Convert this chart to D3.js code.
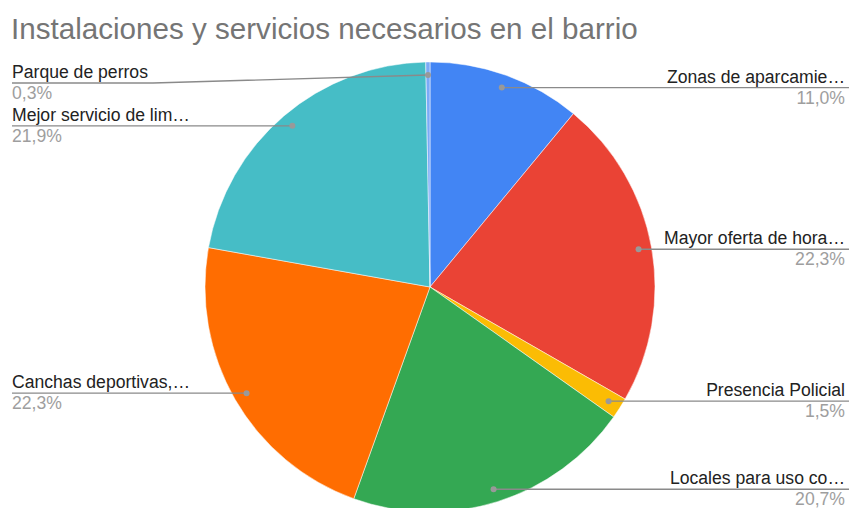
<!DOCTYPE html>
<meta charset="utf-8">
<script src="https://cdn.jsdelivr.net/npm/d3@7"></script>
<style>
body { margin: 0; background: #fff; }
text { font-family: "Liberation Sans", Arial, sans-serif; }
.title { fill: #757575; font-size: 29.6px; }
.lab { fill: #222; font-size: 17.6px; }
.val { fill: #9e9e9e; font-size: 17.6px; }
.leader { fill: none; stroke: #8a8a8a; stroke-width: 1.4px; }
</style>
<body>
<script>

var categories = ["Zonas de aparcamie\u2026", "Mayor oferta de hora\u2026", "Presencia Policial",
                  "Locales para uso co\u2026", "Canchas deportivas,\u2026", "Mejor servicio de lim\u2026",
                  "Parque de perros"];
var values = [11.0, 22.3, 1.5, 20.7, 22.3, 21.9, 0.3];
var colors = ["#4285F4", "#EA4335", "#FBBC04", "#34A853", "#FF6D01", "#46BDC6", "#7BAAF7"];

var width = 849, height = 508;
var cx = 430, cy = 287, r = 225;

var svg = d3.select("body").append("svg")
    .attr("width", width)
    .attr("height", height);

svg.append("text")
    .attr("class", "title")
    .attr("x", 11)
    .attr("y", 39)
    .text("Instalaciones y servicios necesarios en el barrio");

var pie = d3.pie().sort(null).value(function(d) { return d; });
var arcs = pie(values);
var arc = d3.arc().innerRadius(0).outerRadius(r);

var g = svg.append("g").attr("transform", "translate(" + cx + "," + cy + ")");

g.selectAll("path")
    .data(arcs)
    .enter().append("path")
    .attr("d", arc)
    .attr("fill", function(d, i) { return colors[i]; })
    .attr("stroke", "#fff")
    .attr("stroke-width", 0.5);

// leader dots sit at about 0.94 of the radius
var dotR = r * 0.942;
function dotPos(d) {
  var a = (d.startAngle + d.endAngle) / 2;
  return [cx + dotR * Math.sin(a), cy - dotR * Math.cos(a)];
}

// small slice near the top gets its line pushed down a bit
var lineY = { 6: 83 };

arcs.forEach(function(d, i) {
  var p = dotPos(d);
  var right = p[0] > cx;
  var y = lineY[i] !== undefined ? lineY[i] : p[1];

  var lab = svg.append("text")
      .attr("class", "lab")
      .attr("y", y - 5)
      .text(categories[i]);
  var val = svg.append("text")
      .attr("class", "val")
      .attr("y", y + 16)
      .text(d3.format(".1f")(values[i]).replace(".", ",") + "%");

  var pts;
  if (right) {
    lab.attr("x", 845).attr("text-anchor", "end");
    val.attr("x", 845).attr("text-anchor", "end");
    pts = [p, [width, y]];
  } else {
    lab.attr("x", 12);
    val.attr("x", 12);
    var w = lab.node().getComputedTextLength();
    pts = (y === p[1]) ? [[12, y], p] : [[12, y], [12 + w + 5, y], p];
  }

  svg.append("path")
      .attr("class", "leader")
      .attr("d", d3.line()(pts));

  svg.append("circle")
      .attr("cx", p[0])
      .attr("cy", p[1])
      .attr("r", 3)
      .attr("fill", "#999");
});

</script>
</body>
